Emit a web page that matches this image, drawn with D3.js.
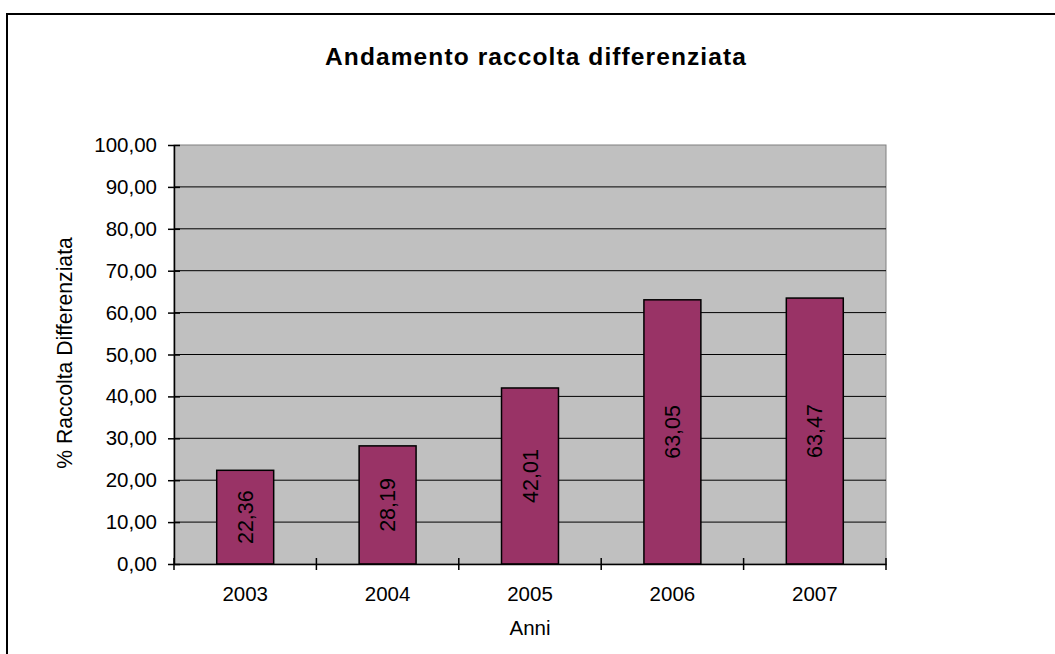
<!DOCTYPE html>
<html>
<head>
<meta charset="utf-8">
<script src="https://cdn.jsdelivr.net/npm/d3@7"></script>
<style>
  html, body { margin: 0; padding: 0; background: #fff; }
  svg { display: block; font-family: "Liberation Sans", Arial, sans-serif; }
</style>
</head>
<body>
<svg id="chart" width="1055" height="654"></svg>
<script>
// Percentuale di raccolta differenziata per anno
const years = ["2003", "2004", "2005", "2006", "2007"];
const values = [22.36, 28.19, 42.01, 63.05, 63.47];
const yTicks = [0, 10, 20, 30, 40, 50, 60, 70, 80, 90, 100];
const titleText = "Andamento raccolta differenziata";
const yTitle = "% Raccolta Differenziata";
const xTitle = "Anni";

const svg = d3.select("#chart");
const plot = { left: 174, right: 886, top: 145, bottom: 564 };
const fmt = v => d3.format(".2f")(v).replace(".", ",");

// outer chart frame
svg.append("rect")
  .attr("x", 7).attr("y", 14).attr("width", 1100).attr("height", 700)
  .attr("fill", "#fff").attr("stroke", "#000").attr("stroke-width", 2);

const x = d3.scaleBand().domain(years)
  .range([plot.left, plot.right]).paddingInner(0.6).paddingOuter(0.3);
const y = d3.scaleLinear().domain([0, 100]).range([plot.bottom, plot.top]);

// plot area background
svg.append("rect")
  .attr("x", plot.left).attr("y", plot.top)
  .attr("width", plot.right - plot.left).attr("height", plot.bottom - plot.top)
  .attr("fill", "#c0c0c0").attr("stroke", "#808080").attr("stroke-width", 1);

// horizontal gridlines
svg.append("g").selectAll("line")
  .data(yTicks.filter(t => t > 0 && t < 100))
  .join("line")
  .attr("x1", plot.left).attr("x2", plot.right)
  .attr("y1", d => y(d)).attr("y2", d => y(d))
  .attr("stroke", "#000").attr("stroke-width", 1);

// bars
svg.append("g").selectAll("rect")
  .data(years)
  .join("rect")
  .attr("x", d => x(d))
  .attr("width", x.bandwidth())
  .attr("y", (d, i) => y(values[i]))
  .attr("height", (d, i) => y(0) - y(values[i]))
  .attr("fill", "#993366").attr("stroke", "#000").attr("stroke-width", 1.5);

// value labels inside bars, rotated
svg.append("g").selectAll("text")
  .data(years)
  .join("text")
  .attr("transform", (d, i) => {
    const cx = x(d) + x.bandwidth() / 2;
    const cy = (y(values[i]) + y(0)) / 2;
    return `translate(${cx},${cy}) rotate(-90)`;
  })
  .attr("text-anchor", "middle").attr("dy", "0.35em")
  .attr("font-size", "21.5px").attr("fill", "#000")
  .text((d, i) => fmt(values[i]));

// y axis
const yAxis = d3.axisLeft(y).tickValues(yTicks).tickSize(0).tickPadding(17).tickFormat(fmt);
const gy = svg.append("g").attr("transform", `translate(${plot.left},0)`).call(yAxis);
gy.select(".domain").attr("stroke", "#000").attr("stroke-width", 1.5);
gy.selectAll(".tick text").attr("font-size", "20.5px").attr("fill", "#000")
  .attr("font-family", "Liberation Sans, Arial, sans-serif");
gy.selectAll(".tick").append("line")
  .attr("x1", -6).attr("x2", 6).attr("stroke", "#000").attr("stroke-width", 1.5);

// x axis
const xAxis = d3.axisBottom(x).tickSize(0).tickPadding(22);
const gx = svg.append("g").attr("transform", `translate(0,${plot.bottom})`).call(xAxis);
gx.select(".domain").attr("stroke", "#000").attr("stroke-width", 1.5);
gx.selectAll(".tick text").attr("font-size", "20.5px").attr("fill", "#000")
  .attr("font-family", "Liberation Sans, Arial, sans-serif");
// tick marks crossing the axis at category boundaries
const bounds = years.map((d, i) => plot.left + i * x.step());
bounds.push(plot.right);
gx.selectAll("line.bound").data(bounds).join("line").attr("class", "bound")
  .attr("x1", d => d).attr("x2", d => d).attr("y1", -6).attr("y2", 6)
  .attr("stroke", "#000").attr("stroke-width", 1.5);

// titles
svg.append("text")
  .attr("x", 536).attr("y", 65).attr("text-anchor", "middle")
  .attr("font-size", "24.5px").attr("font-weight", "bold")
  .attr("letter-spacing", "1.1px").attr("fill", "#000")
  .text(titleText);

svg.append("text")
  .attr("transform", `translate(72,353) rotate(-90)`)
  .attr("text-anchor", "middle")
  .attr("font-size", "21.2px").attr("fill", "#000")
  .text(yTitle);

svg.append("text")
  .attr("x", 530).attr("y", 635).attr("text-anchor", "middle")
  .attr("font-size", "20.5px").attr("fill", "#000")
  .text(xTitle);
</script>
</body>
</html>
